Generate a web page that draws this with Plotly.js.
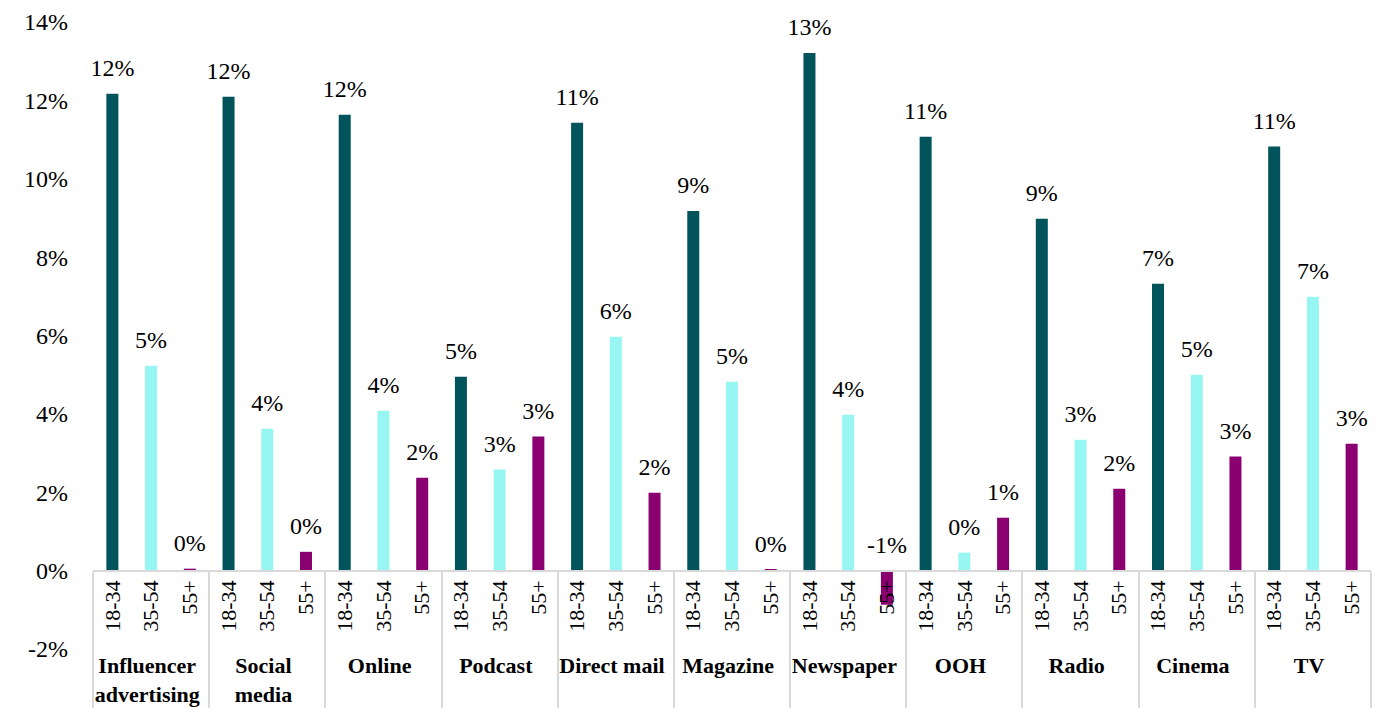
<!DOCTYPE html>
<html>
<head>
<meta charset="utf-8">
<script src="https://cdn.plot.ly/plotly-3.0.1.min.js"></script>
<style>
  html, body { margin: 0; padding: 0; background: #ffffff; }
  #chart { width: 1397px; height: 708px; }
</style>
</head>
<body>
<div id="chart"></div>
<script>
// Channels (outer level) and age groups (inner level)
const categories = ["Influencer<br>advertising", "Social<br>media", "Online", "Podcast", "Direct mail",
    "Magazine", "Newspaper", "OOH", "Radio", "Cinema", "TV"];
const ageGroups = ["18-34", "35-54", "55+"];

// Values in percent
const age18to34 = [12.17, 12.09, 11.63, 4.95, 11.43, 9.18, 13.21, 11.07, 8.98, 7.32, 10.82];
const age35to54 = [5.23, 3.62, 4.08, 2.58, 5.97, 4.82, 3.98, 0.46, 3.34, 5.00, 6.99];
const age55plus = [0.05, 0.48, 2.37, 3.42, 1.99, 0.03, -0.87, 1.35, 2.09, 2.91, 3.24];

const yTicks = [-2, 0, 2, 4, 6, 8, 10, 12, 14];

const seriesValues = [age18to34, age35to54, age55plus];
const seriesColors = ["#02545c", "#97f6f2", "#8b0071"];
const serif = "Times New Roman";

// Build the multicategory x arrays
const outer = [], inner = [], yVals = [], colors = [], labelY = [], labelText = [];
categories.forEach(function (cat, i) {
    ageGroups.forEach(function (age, j) {
        const v = seriesValues[j][i];
        outer.push("<b>" + cat + "</b>");
        inner.push(age);
        yVals.push(v);
        colors.push(seriesColors[j]);
        labelY.push(Math.max(v, 0));
        labelText.push(Math.round(v) + "%");
    });
});

const barTrace = {
    type: "bar",
    x: [outer, inner],
    y: yVals,
    marker: { color: colors },
    hoverinfo: "x+y",
    showlegend: false
};

// Data labels sit above each bar (and above zero for the negative one)
const labelTrace = {
    type: "scatter",
    mode: "markers+text",
    x: [outer, inner],
    y: labelY,
    text: labelText,
    textposition: "top center",
    marker: { size: 17, opacity: 0 },
    textfont: { family: serif, size: 24, color: "#000000" },
    hoverinfo: "skip",
    showlegend: false,
    cliponaxis: false
};

const layout = {
    width: 1397,
    height: 708,
    paper_bgcolor: "#ffffff",
    plot_bgcolor: "#ffffff",
    barmode: "overlay",
    bargap: 0.69,
    showlegend: false,
    margin: { l: 93, r: 26, t: 22, b: 59, pad: 0 },
    font: { family: serif, size: 22, color: "#000000" },
    xaxis: {
        type: "multicategory",
        range: [-0.5, 32.5],
        anchor: "free",
        position: 0.125,
        tickangle: -90,
        showline: true,
        linecolor: "#d9d9d9",
        linewidth: 2,
        showdividers: true,
        dividercolor: "#d9d9d9",
        dividerwidth: 2,
        ticks: "",
        showgrid: false,
        automargin: false,
        tickfont: { family: serif, size: 22, color: "#000000" }
    },
    yaxis: {
        range: [-2, 14],
        tickvals: yTicks,
        ticktext: yTicks.map(t => t + "%"),
        showgrid: false,
        zeroline: false,
        showline: false,
        ticks: "",
        automargin: false,
        ticklabelstandoff: 24,
        tickfont: { family: serif, size: 24, color: "#000000" }
    }
};

Plotly.newPlot("chart", [barTrace, labelTrace], layout, { displayModeBar: false });
</script>
</body>
</html>
